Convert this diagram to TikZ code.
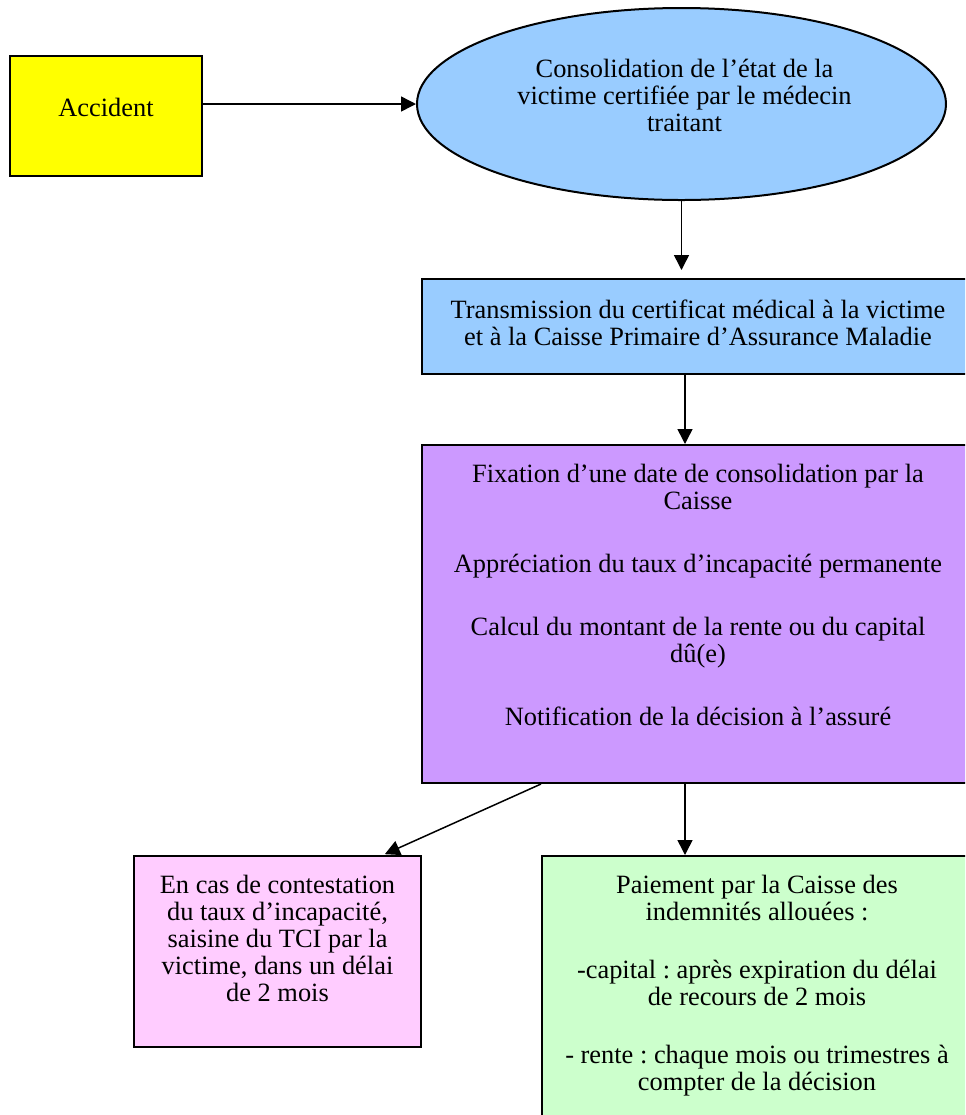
\documentclass[tikz,border=0pt]{standalone}
\usepackage{fontspec}
\setmainfont{Liberation Serif}
\frenchspacing
\usetikzlibrary{arrows.meta,positioning,shapes.geometric}
\definecolor{accyellow}{HTML}{FFFF00}
\definecolor{skyblue}{HTML}{99CCFF}
\definecolor{lilac}{HTML}{CC99FF}
\definecolor{pinkbox}{HTML}{FFCCFF}
\definecolor{mint}{HTML}{CCFFCC}
\newcommand\boxfont{\fontsize{13.2}{13.5}\selectfont}
\tikzset{
  >={Triangle[length=7.5pt, width=7.5pt]},
  block/.style={draw, line width=1pt, rectangle, inner sep=0pt},
  oval/.style={draw, line width=1pt, ellipse, inner sep=0pt},
  txt/.style={inner sep=0pt, align=center, font=\boxfont},
  conn/.style={->, line width=0.75pt},
}

\begin{document}
\begin{tikzpicture}[x=0.5pt, y=-0.5pt]
    \useasboundingbox (0,0) rectangle (965,1115);
    \clip (0,0) rectangle (965,1115);

    % boxes
    \node[block, fill=accyellow, minimum width=96pt, minimum height=60pt] (acc) at (106,116) {};
    \node[oval, fill=skyblue, minimum width=264.5pt, minimum height=96pt] (cons) at (681.5,104) {};
    \node[block, fill=skyblue, minimum width=276pt, minimum height=47.5pt] (trans) at (698,326.5) {};
    \node[block, fill=lilac, minimum width=276pt, minimum height=169pt] (fix) at (698,614) {};
    \node[block, fill=pinkbox, minimum width=143.5pt, minimum height=95.5pt] (tci) at (277.5,951.5) {};
    \node[block, fill=mint, minimum width=215pt, minimum height=137pt] (pay) at (757,993) {};

    % texts
    \node[txt] (tacc) at ([yshift=4.5pt]acc.center) {Accident};
    \node[txt, below=26pt of cons.north, xshift=1.5pt] (tcons)
        {Consolidation de l’état de la\\victime certifiée par le médecin\\traitant};
    \node[txt, below=11pt of trans.north] (ttrans)
        {Transmission du certificat médical à la victime\\et à la Caisse Primaire d’Assurance Maladie};
    \node[txt, below=10pt of fix.north] (tfix)
        {Fixation d’une date de consolidation par la\\Caisse\\[18pt]
         Appréciation du taux d’incapacité permanente\\[18pt]
         Calcul du montant de la rente ou du capital\\dû(e)\\[18pt]
         Notification de la décision à l’assuré};
    \node[txt, below=10pt of tci.north] (ttci)
        {En cas de contestation\\du taux d’incapacité,\\saisine du TCI par la\\victime, dans un délai\\de 2 mois};
    \node[txt, below=10pt of pay.north] (tpay)
        {Paiement par la Caisse des\\indemnités allouées :\\[15.5pt]
         -capital : après expiration du délai\\de recours de 2 mois\\[15.5pt]
         - rente : chaque mois ou trimestres à\\compter de la décision};

    % arrows
    \draw[conn] ([yshift=6pt]acc.east) -- (cons.west);
    \draw[conn, shorten >=4pt] (cons.south) -- (cons.south |- trans.north);
    \draw[conn] ([xshift=-6.5pt]trans.south) -- ([xshift=-6.5pt]fix.north);
    \draw[conn] ([xshift=-6.5pt]fix.south) -- ([xshift=-6.5pt]fix.south |- pay.north);
    \draw[conn, shorten >=1pt] (pay.north west |- fix.south) -- ([xshift=-19.5pt]tci.north east);
\end{tikzpicture}
\end{document}
